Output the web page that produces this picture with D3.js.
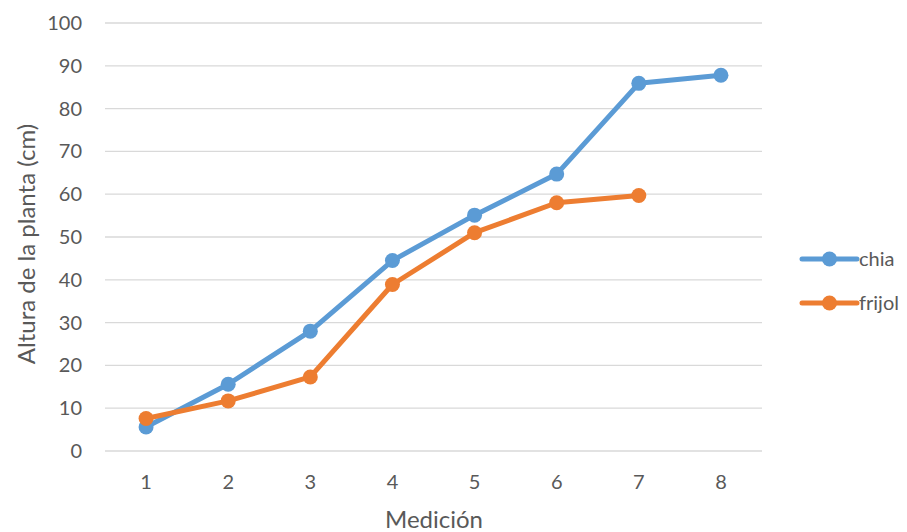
<!DOCTYPE html>
<html><head><meta charset="utf-8">
<script src="https://cdn.jsdelivr.net/npm/d3@7"></script>
<style>body{margin:0;background:#fff}svg{display:block}text{font-family:Lato,"Open Sans",sans-serif}</style>
</head><body><svg id="c" width="907" height="532"></svg>
<script>
const categories = ["1","2","3","4","5","6","7","8"];
const chia = [5.6, 15.6, 28.0, 44.5, 55.1, 64.7, 85.9, 87.8];
const frijol = [7.6, 11.7, 17.3, 38.9, 51.0, 58.0, 59.7];
const yTicks = [0,10,20,30,40,50,60,70,80,90,100];
const seriesNames = ["chia","frijol"];
const colors = ["#5B9BD5","#ED7D31"];

(function(){
const svg = d3.select("#c");
const mLeft = 105, mRight = 762, mTop = 23, mBottom = 451;
const x = d3.scaleBand().domain(categories).range([mLeft, mRight]);
const y = d3.scaleLinear().domain([0,100]).range([mBottom, mTop]);

svg.append("g").selectAll("line").data(yTicks).join("line")
  .attr("x1", mLeft).attr("x2", mRight)
  .attr("y1", d=>y(d)).attr("y2", d=>y(d))
  .attr("stroke", "#d9d9d9").attr("stroke-width", 1.3);

const yAxis = d3.axisLeft(y).tickValues(yTicks).tickSize(0).tickPadding(0);
const gy = svg.append("g").attr("transform", `translate(${mLeft-23},0)`).call(yAxis);
gy.select(".domain").remove();
gy.selectAll("text").attr("fill","#595959").style("font-size","20px").style("font-family","Lato,'Open Sans',sans-serif");

const xAxis = d3.axisBottom(x).tickSize(0).tickPadding(0);
const gx = svg.append("g").attr("transform", `translate(0,${mBottom+24})`).call(xAxis);
gx.select(".domain").remove();
gx.selectAll("text").attr("fill","#595959").style("font-size","20px").style("font-family","Lato,'Open Sans',sans-serif");

svg.append("text").attr("x", 434).attr("y", 528).attr("text-anchor","middle")
  .attr("fill","#595959").style("font-size","24px").text("Medición");
svg.append("text").attr("transform","translate(35,244) rotate(-90)").attr("text-anchor","middle")
  .attr("fill","#595959").style("font-size","24px").text("Altura de la planta (cm)");

const data = [chia, frijol];
const line = d3.line().x((d,i)=>x(categories[i]) + x.bandwidth()/2).y(d=>y(d));
data.forEach((s, k) => {
  const g = svg.append("g");
  g.append("path").datum(s).attr("d", line).attr("fill","none")
    .attr("stroke", colors[k]).attr("stroke-width", 5).attr("stroke-linejoin","round");
  g.selectAll("circle").data(s).join("circle")
    .attr("cx",(d,i)=>x(categories[i]) + x.bandwidth()/2).attr("cy", d=>y(d))
    .attr("r", 7.5).attr("fill", colors[k]);
});

const lg = svg.append("g");
seriesNames.forEach((n,k)=>{
  const ly = 259 + k*44;
  lg.append("line").attr("x1",802).attr("x2",857).attr("y1",ly).attr("y2",ly)
    .attr("stroke",colors[k]).attr("stroke-width",5).attr("stroke-linecap","round");
  lg.append("circle").attr("cx",829.5).attr("cy",ly).attr("r",7.5).attr("fill",colors[k]);
  lg.append("text").attr("x",859).attr("y",ly).attr("dy","0.35em")
    .attr("fill","#595959").style("font-size","20px").text(n);
});
})();
</script></body></html>
